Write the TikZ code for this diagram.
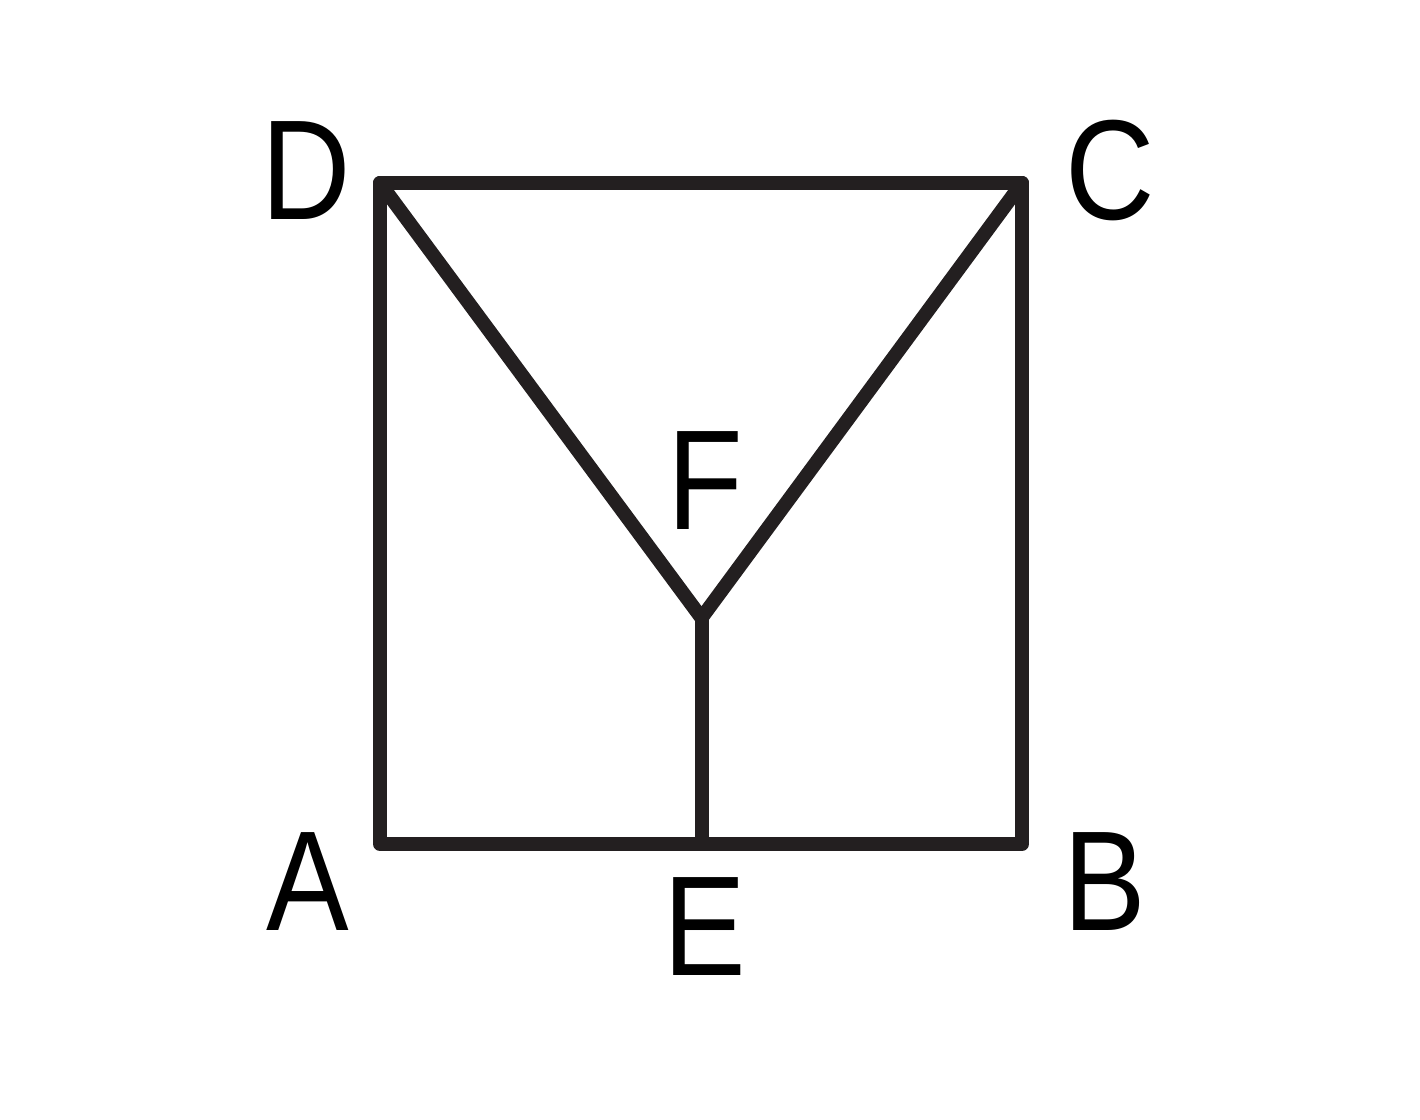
\documentclass[tikz,border=0pt]{standalone}
\usepackage{fontspec}
\setmainfont{Liberation Sans}
\newfontfamily\labelfont[FakeStretch=0.87]{Liberation Sans}
\definecolor{edgegray}{HTML}{231F20}
\tikzset{
	edge/.style={line width=0.14cm, color=edgegray, line cap=round, line join=round},
	vlabel/.style={inner sep=0pt, font=\labelfont\fontsize{40.5}{42}\selectfont}
}

\begin{document}
\begin{tikzpicture}
		%%%%% START %%%%%
		\useasboundingbox (0, 0) rectangle (14.2, 11.2);
		
		\coordinate (A) at (3.80, 2.76);
		\coordinate (B) at (10.22, 2.76);
		\coordinate (C) at (10.22, 9.37);
		\coordinate (D) at (3.80, 9.37);
		\coordinate (E) at (7.015, 2.76);
		\coordinate (F) at (7.015, 5.02);
		
		\draw[edge] (A) -- (B) -- (C) -- (D) -- cycle;
		\draw[edge] (D) -- (F) -- (C);
		\draw[edge] (F) -- (E);
		
		\node[vlabel] (labA) at (3.08, 2.38) {A};
		\node[vlabel] (labB) at (11.05, 2.38) {B};
		\node[vlabel] (labC) at (11.10, 9.49) {C};
		\node[vlabel] (labD) at (3.06, 9.49) {D};
		\node[vlabel] (labE) at (7.045, 1.93) {E};
		\node[vlabel] (labF) at (7.05, 6.39) {F};
		
		%%%%% END %%%%%
	\end{tikzpicture}
\end{document}
